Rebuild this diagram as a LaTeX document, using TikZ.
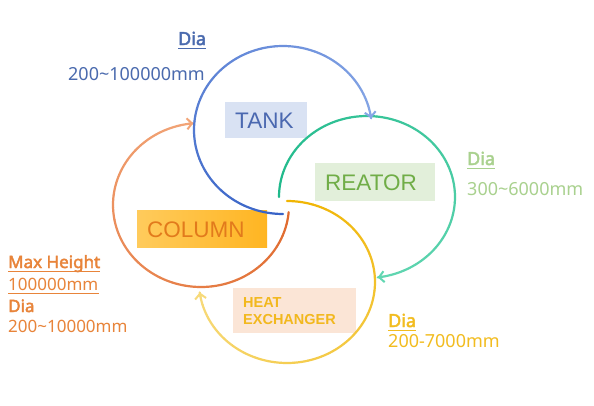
\documentclass[tikz,border=0pt]{standalone}
\usepackage{fontspec}
\setmainfont{Noto Sans}
\newfontfamily\boldlbl{Noto Sans}[FakeBold=2.5]
\newfontfamily\arialf{Liberation Sans}
\usetikzlibrary{arrows.meta}
\definecolor{bluedk}{HTML}{3762C6}
\definecolor{bluelt}{HTML}{86A6E6}
\definecolor{greendk}{HTML}{1EB98A}
\definecolor{greenlt}{HTML}{62D7B2}
\definecolor{yeldk}{HTML}{F0B400}
\definecolor{yellt}{HTML}{F7DA7A}
\definecolor{orgdk}{HTML}{E06A2E}
\definecolor{orglt}{HTML}{F2A578}
\definecolor{tanktxt}{HTML}{4A68B0}
\definecolor{tankfill}{HTML}{D9E2F3}
\definecolor{reatxt}{HTML}{70AD47}
\definecolor{reafill}{HTML}{E2EFDA}
\definecolor{coltxt}{HTML}{E27A1C}
\definecolor{colfillA}{HTML}{FFCB5C}
\definecolor{colfillB}{HTML}{FFB522}
\definecolor{heattxt}{HTML}{F2B81E}
\definecolor{heatfill}{HTML}{FBE5D6}
\definecolor{lblblue}{HTML}{4A6AAE}
\definecolor{lblgreen}{HTML}{A9D18E}
\definecolor{lblorange}{HTML}{E8843A}
\definecolor{lblyellow}{HTML}{F2BC1F}
\newcommand{\gradarc}[8]{%
  \foreach \i in {0,...,29}{%
    \pgfmathsetmacro\aa{#5+(#6-#5)*\i/30}%
    \pgfmathsetmacro\bb{#5+(#6-#5)*(\i+1)/30}%
    \pgfmathsetmacro\pp{100-100*(\i+0.5)/30}%
    \draw[ring, color=#7!\pp!#8] ([shift={(#1,#2)}]\aa:#3 and #4) arc[start angle=\aa, end angle=\bb, x radius=#3, y radius=#4];
  }%
  \pgfmathsetmacro\aa{#6-3}%
  \draw[ring, color=#8, -{Straight Barb[length=5pt,width=11pt,line width=2pt]}] ([shift={(#1,#2)}]\aa:#3 and #4) arc[start angle=\aa, end angle=#6, x radius=#3, y radius=#4];
}
\tikzset{
  ring/.style={line width=2.2pt, line cap=round},
  boxtext/.style={font=\arialf\fontsize{22.5}{26}\selectfont, anchor=base west, inner sep=0pt},
  lbl/.style={font=\fontsize{18}{22}\selectfont, anchor=base west, inner sep=0pt},
  lblb/.style={font=\boldlbl\fontsize{18}{22}\selectfont, anchor=base west, inner sep=0pt},
  olbl/.style={font=\fontsize{17}{21}\selectfont, anchor=base west, inner sep=0pt},
  olblb/.style={font=\boldlbl\fontsize{17}{21}\selectfont, anchor=base west, inner sep=0pt},
}
\begin{document}
\begin{tikzpicture}[x=1pt,y=-1pt]
\useasboundingbox (0,0) rectangle (594,405);
\fill[white] (0,0) rectangle (594,405);
% boxes
\fill[tankfill] (225,102) rectangle (307,138);
\fill[reafill] (315,163) rectangle (435,201);
\shade[left color=colfillA, right color=colfillB] (137,210) rectangle (267,247);
\fill[heatfill] (233,288) rectangle (356,333);
% arcs
\gradarc{201}{205}{88}{82}{5}{265}{orgdk}{orglt}
\gradarc{287}{282}{88}{81}{270}{532.6}{yeldk}{yellt}
\gradarc{367}{197}{88}{81}{180}{443}{greendk}{greenlt}
\gradarc{283}{130}{89}{84}{90}{352}{bluedk}{bluelt}
% box texts
\node[boxtext, text=tanktxt] (tank) at (235,128) {TANK};
\node[boxtext, text=reatxt] (reator) at (325,190) {REATOR};
\node[boxtext, text=coltxt] (column) at (147,237) {COLUMN};
\node[font=\arialf\bfseries\fontsize{14.5}{17}\selectfont, anchor=base west, inner sep=0pt, text=heattxt] (heat) at (243,307) {HEAT};
\node[font=\arialf\bfseries\fontsize{14.5}{17}\selectfont, anchor=base west, inner sep=0pt, text=heattxt] (exch) at (243,324) {EXCHANGER};
% tank label
\node[lblb, text=lblblue] (tdia) at (178,45) {Dia};
\draw[lblblue, line width=1pt] ([yshift=-3pt]tdia.base west) -- ([yshift=-3pt]tdia.base east);
\node[lbl, text=lblblue] (tval) at (68,80) {200\char"7E 100000mm};
% reator label
\node[lblb, text=lblgreen] (rdia) at (467,165) {Dia};
\draw[lblgreen, line width=1pt] ([yshift=-3pt]rdia.base west) -- ([yshift=-3pt]rdia.base east);
\node[lbl, text=lblgreen] (rval) at (467,195) {300\char"7E 6000mm};
% heat label
\node[lblb, text=lblyellow] (hdia) at (388,327) {Dia};
\draw[lblyellow, line width=1pt] ([yshift=-3pt]hdia.base west) -- ([yshift=-3pt]hdia.base east);
\node[lbl, text=lblyellow] (hval) at (388,347) {200-7000mm};
% column label
\node[olblb, text=lblorange] (cmax) at (8,268) {Max Height};
\draw[lblorange, line width=1pt] ([yshift=-3pt]cmax.base west) -- ([yshift=-3pt]cmax.base east);
\node[olbl, text=lblorange] (cmaxv) at (8,290) {100000mm};
\draw[lblorange, line width=0.8pt] ([yshift=-3pt]cmaxv.base west) -- ([yshift=-3pt]cmaxv.base east);
\node[olblb, text=lblorange] (cdia) at (8,312) {Dia};
\node[olbl, text=lblorange] (cval) at (8,332) {200\char"7E 10000mm};
\end{tikzpicture}
\end{document}
